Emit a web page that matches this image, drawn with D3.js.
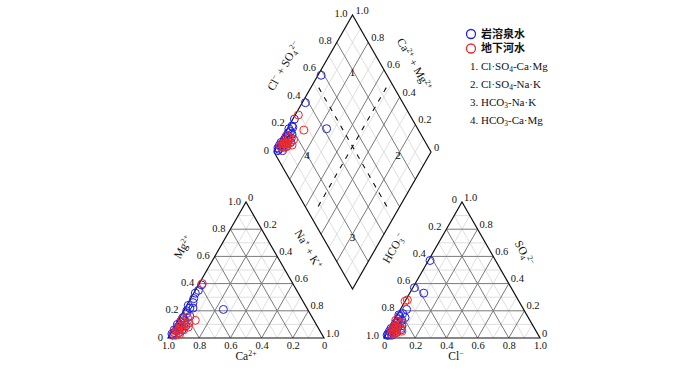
<!DOCTYPE html>
<html>
<head>
<meta charset="utf-8">
<title>Piper Diagram</title>
<script src="https://d3js.org/d3.v7.min.js"></script>
<style>
body { margin: 0; background: #fff; }
text { font-family: "Liberation Serif", "Times New Roman", serif; fill: #111; }
</style>
</head>
<body>
<script>
// tick labels used on every edge
var tickValues = [0, 0.2, 0.4, 0.6, 0.8, 1.0];
var tickLabels = ["0", "0.2", "0.4", "0.6", "0.8", "1.0"];

// 岩溶泉水 (meq %), Ca = 100 - Mg - NaK, HCO3 = 100 - SO4 - Cl
var springMg  = [39, 35, 21, 33, 29, 26, 22, 22, 18, 15, 13, 12, 11, 10, 9, 8, 7, 6, 5, 4, 3, 2, 16, 20, 24, 6, 9, 4];
var springNaK = [2, 2, 25, 1, 2, 3, 3, 5, 3, 2, 4, 2, 5, 1, 3, 2, 4, 1, 3, 2, 1, 2, 6, 2, 1, 6, 7, 5];
var springSO4 = [57, 37, 33, 21, 18, 16, 15, 13, 12, 11, 10, 9, 8, 7, 7, 6, 5, 5, 4, 3, 2, 2, 9, 14, 17, 4, 6, 2];
var springCl  = [1, 1, 9, 4, 3, 2, 6, 5, 3, 2, 4, 2, 5, 1, 3, 2, 4, 1, 3, 1, 2, 1, 7, 2, 1, 6, 8, 4];

// 地下河水 (meq %)
var riverMg  = [40, 13, 15, 12, 10, 9, 8, 7, 6, 5, 4, 3, 11, 6, 2, 8, 14, 3];
var riverNaK = [2, 11, 5, 4, 6, 3, 5, 2, 4, 3, 5, 2, 8, 7, 4, 9, 2, 6];
var riverSO4 = [28, 27, 12, 10, 9, 8, 7, 6, 5, 6, 4, 3, 11, 7, 3, 5, 13, 4];
var riverCl  = [1, 0, 3, 5, 3, 2, 4, 2, 5, 3, 4, 3, 6, 7, 5, 9, 1, 6];

var seriesNames = ["岩溶泉水", "地下河水"];
var seriesColors = ["#2020e8", "#ee2a2a"];
var regionNames = [
  ["1. Cl·SO", "4", "-Ca·Mg"],
  ["2. Cl·SO", "4", "-Na·K"],
  ["3. HCO", "3", "-Na·K"],
  ["4. HCO", "3", "-Ca·Mg"]
];

var width = 700, height = 370;
var side = 156, triH = 136, base = 338;

var svg = d3.select("body").append("svg")
    .attr("width", width)
    .attr("height", height);

// ternary helpers -------------------------------------------------------
function triScales(x0) {
    return {
        x: d3.scaleLinear().domain([0, 1]).range([x0, x0 + side]),
        y: d3.scaleLinear().domain([0, 1]).range([base, base - triH])
    };
}
var leftS = triScales(168);
var rightS = triScales(384);
// point from (top fraction, right fraction)
function triPt(s, top, right) {
    return [s.x(right + top / 2), s.y(top)];
}

var dX = d3.scaleLinear().domain([-1, 1]).range([274, 431]);
var dY = d3.scaleLinear().domain([0, 2]).range([289, 15]);
// c = Ca+Mg, a = Cl+SO4
function diaPt(c, a) {
    return [dX(a - c), dY(a + c)];
}

var line = d3.line();
var gridSteps = d3.range(1, 10).map(function(k) { return k / 10; });

function gridStyle(sel, v) {
    var major = Math.round(v * 10) % 2 === 0;
    sel.attr("stroke", major ? "#7a7a7a" : "#d6d6d6")
       .attr("stroke-width", major ? 1 : 0.8)
       .attr("fill", "none");
}

function drawTriangle(s) {
    var g = svg.append("g");
    var lines = [];
    gridSteps.forEach(function(v) {
        lines.push({v: v, p: [triPt(s, v, 0), triPt(s, v, 1 - v)]});
        lines.push({v: v, p: [triPt(s, 0, v), triPt(s, 1 - v, v)]});
        lines.push({v: v, p: [triPt(s, 1 - v, 0), triPt(s, 0, 1 - v)]});
    });
    lines.sort(function(a, b) { return (Math.round(a.v * 10) % 2) ? -1 : 1; });
    lines.forEach(function(l) {
        g.append("path").attr("d", line(l.p)).call(gridStyle, l.v);
    });
    g.append("path")
        .attr("d", line([triPt(s, 0, 0), triPt(s, 1, 0), triPt(s, 0, 1)]) + "Z")
        .attr("fill", "none").attr("stroke", "#111").attr("stroke-width", 1.2);
    return g;
}

function drawDiamond() {
    var g = svg.append("g");
    var lines = [];
    gridSteps.forEach(function(v) {
        lines.push({v: v, p: [diaPt(v, 0), diaPt(v, 1)]});
        lines.push({v: v, p: [diaPt(0, v), diaPt(1, v)]});
    });
    lines.sort(function(a, b) { return (Math.round(a.v * 10) % 2) ? -1 : 1; });
    lines.forEach(function(l) {
        g.append("path").attr("d", line(l.p)).call(gridStyle, l.v);
    });
    // facies boundaries
    g.append("path").attr("d", line([diaPt(0.95, 0.52), diaPt(0.08, 0.52)]))
        .attr("stroke", "#111").attr("stroke-width", 1.1).attr("stroke-dasharray", "5,6");
    g.append("path").attr("d", line([diaPt(0.52, 0.95), diaPt(0.52, 0.08)]))
        .attr("stroke", "#111").attr("stroke-width", 1.1).attr("stroke-dasharray", "5,6");
    g.append("path")
        .attr("d", line([diaPt(0, 0), diaPt(1, 0), diaPt(1, 1), diaPt(0, 1)]) + "Z")
        .attr("fill", "none").attr("stroke", "#111").attr("stroke-width", 1.2);
    return g;
}

drawTriangle(leftS);
drawTriangle(rightS);
drawDiamond();

// rich text with sub/superscripts: parts = [[text, "", "sub", "sup"]...]
function richText(sel, parts, size) {
    var shift = 0;
    parts.forEach(function(p) {
        var t = sel.append("tspan").text(p[0]);
        var target = p[1] === "sup" ? -4 : p[1] === "sub" ? 2.5 : 0;
        t.attr("dy", target - shift);
        if (p[1]) t.attr("font-size", size * 0.68);
        shift = target;
    });
}

function tickText(xy, label, anchor, dx, dy) {
    svg.append("text")
        .attr("x", xy[0] + dx).attr("y", xy[1] + dy)
        .attr("dy", "0.35em")
        .attr("text-anchor", anchor)
        .attr("font-size", 10.5)
        .text(label);
}

tickValues.forEach(function(v, i) {
    tickText(triPt(leftS, v, 0), tickLabels[i], "end", -5, -1);          // Mg
    tickText(triPt(leftS, 1 - v, v), tickLabels[i], "start", 2, -5);     // Na+K
    tickText(triPt(rightS, 1 - v, 0), tickLabels[i], "end", -5, -3);     // HCO3
    tickText(triPt(rightS, v, 1 - v), tickLabels[i], "start", 2, -5);    // SO4
    tickText(diaPt(1, v), tickLabels[i], "end", -5, -2);                 // Cl+SO4
    tickText(diaPt(v, 1), tickLabels[i], "start", 3, -5);                // Ca+Mg
});

// bottom axes
var caScale = d3.scaleLinear().domain([1, 0]).range([168, 168 + side]);
var clScale = d3.scaleLinear().domain([0, 1]).range([384, 384 + side]);
[caScale, clScale].forEach(function(sc) {
    var ax = svg.append("g")
        .attr("transform", "translate(0," + base + ")")
        .call(d3.axisBottom(sc).tickValues(tickValues).tickSize(0).tickPadding(4)
            .tickFormat(function(d) { return tickLabels[tickValues.indexOf(d)]; }));
    ax.select(".domain").remove();
    ax.selectAll("text").attr("font-size", 10.5)
        .attr("font-family", "Liberation Serif, serif").attr("fill", "#111");
    ax.attr("font-family", null).attr("font-size", null);
});

// axis titles
function title(x, y, rot, parts) {
    var t = svg.append("text")
        .attr("transform", "translate(" + x + "," + y + ") rotate(" + rot + ")")
        .attr("text-anchor", "middle")
        .attr("dy", "0.35em")
        .attr("font-size", 11.5);
    richText(t, parts, 11.5);
}
title(246, 360, 0, [["Ca", ""], ["2+", "sup"]]);
title(186, 249, -60, [["Mg", ""], ["2+", "sup"]]);
title(305, 251, 60, [["Na", ""], ["+", "sup"], [" + K", ""], ["+", "sup"]]);
title(397, 250, -60, [["HCO", ""], ["3", "sub"], ["−", "sup"]]);
title(521, 255, 60, [["SO", ""], ["4", "sub"], ["2−", "sup"]]);
title(456, 360, 0, [["Cl", ""], ["−", "sup"]]);
title(287, 68, -60, [["Cl", ""], ["−", "sup"], [" + SO", ""], ["4", "sub"], ["2−", "sup"]]);
title(411, 66, 60, [["Ca", ""], ["2+", "sup"], [" + Mg", ""], ["2+", "sup"]]);

// region numbers in the diamond
var regionPos = [[0.79, 0.79], [0.2, 0.78], [0.19, 0.19], [0.78, 0.2]];
regionPos.forEach(function(p, i) {
    var xy = diaPt(p[0], p[1]);
    svg.append("text").attr("x", xy[0]).attr("y", xy[1]).attr("dy", "0.35em")
        .attr("text-anchor", "middle").attr("font-size", 11)
        .style("fill", "#000").text(i + 1);
});

// samples
var groups = [
    {mg: springMg, nak: springNaK, so4: springSO4, cl: springCl},
    {mg: riverMg, nak: riverNaK, so4: riverSO4, cl: riverCl}
];
groups.forEach(function(gr, gi) {
    var g = svg.append("g").attr("fill", "none")
        .attr("stroke", seriesColors[gi]).attr("stroke-width", 1);
    gr.mg.forEach(function(mg, i) {
        var m = mg / 100, n = gr.nak[i] / 100, s = gr.so4[i] / 100, c = gr.cl[i] / 100;
        var pts = [
            triPt(leftS, m, n),
            triPt(rightS, s, c),
            diaPt(1 - n, s + c)
        ];
        pts.forEach(function(p) {
            g.append("circle").attr("cx", p[0]).attr("cy", p[1]).attr("r", 4);
        });
    });
});

// legend
var legend = svg.append("g");
seriesNames.forEach(function(name, i) {
    var y = 34 + i * 14.5;
    legend.append("circle").attr("cx", 471).attr("cy", y).attr("r", 4.5)
        .attr("fill", "none").attr("stroke", seriesColors[i]).attr("stroke-width", 1.3);
    legend.append("text").attr("x", 481).attr("y", y).attr("dy", "0.35em")
        .attr("font-size", 11).attr("font-weight", "bold")
        .style("font-family", "'Noto Sans CJK SC', sans-serif")
        .text(name);
});
regionNames.forEach(function(parts, i) {
    var t = legend.append("text").attr("x", 470).attr("y", 66 + i * 18)
        .attr("dy", "0.35em").attr("font-size", 11);
    t.append("tspan").text(parts[0]);
    t.append("tspan").attr("dy", 2.5).attr("font-size", 7.5).text(parts[1]);
    t.append("tspan").attr("dy", -2.5).text(parts[2]);
});
</script>
</body>
</html>
